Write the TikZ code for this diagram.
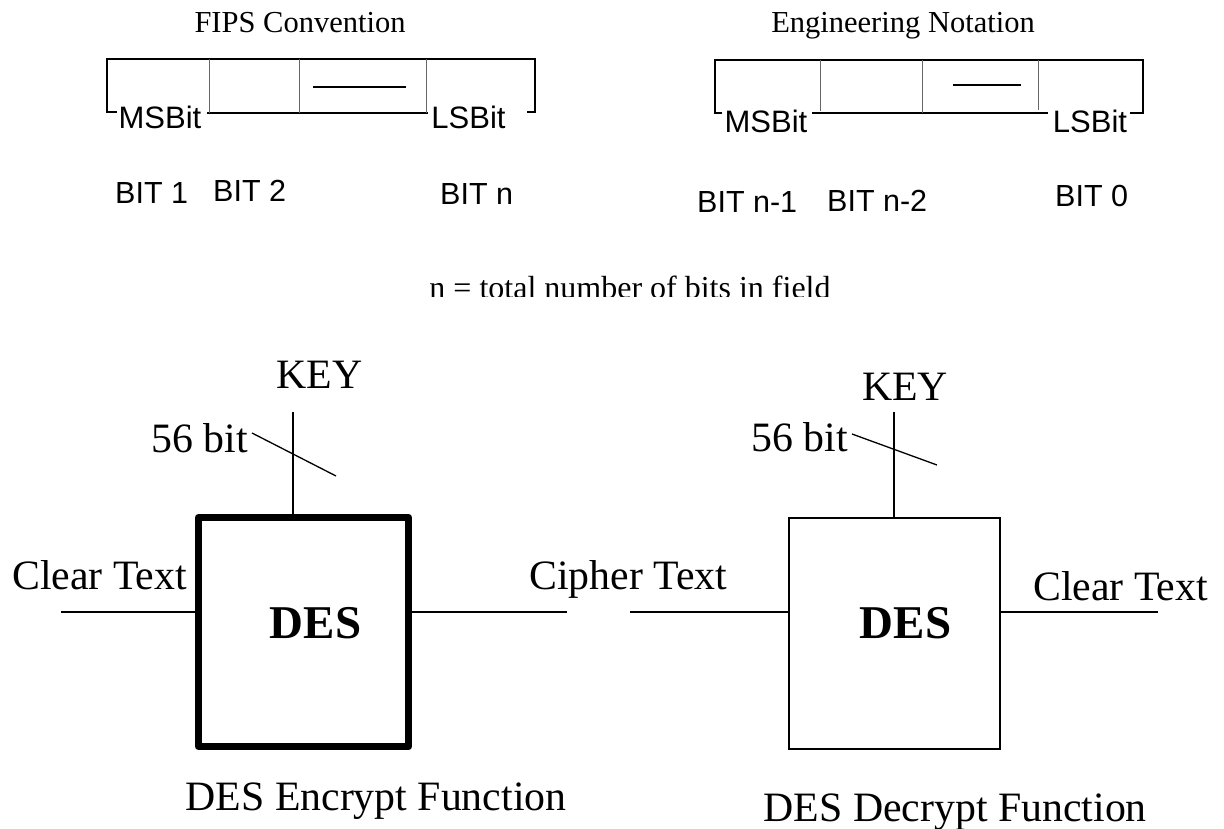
\documentclass[tikz,border=0pt]{standalone}
\usepackage{fontspec}
\setmainfont{Liberation Serif}
\newfontfamily\arialf{Liberation Sans}
\begin{document}
\begin{tikzpicture}[x=1pt,y=-1pt,
  lbl/.style={inner sep=0pt, font=\fontsize{41.8}{41.8}\selectfont},
  title/.style={inner sep=0pt, font=\fontsize{30.5}{30.5}\selectfont},
  bitlbl/.style={inner sep=0pt, anchor=base west, font=\arialf\fontsize{30.5}{30.5}\selectfont},
  bitname/.style={inner sep=0pt, anchor=base, font=\arialf\fontsize{31}{31}\selectfont},
  desbold/.style={inner sep=0pt, anchor=base, font=\bfseries\fontsize{47}{47}\selectfont},
  bracket/.style={line width=2pt},
  cell/.style={line width=1pt, draw=black!60},
  wire/.style={line width=1.3pt},
  encbox/.style={draw, line width=7pt, line join=round, inner sep=0pt},
  decbox/.style={draw, line width=2pt, inner sep=0pt}]
\useasboundingbox (0,0) rectangle (1224,829);

% ---------- top: FIPS convention ----------
\node[title, anchor=base] (fips) at (300,33) {FIPS Convention};
\node[bitname] (fmsb) at (160,129) {MSBit};
\node[bitname] (flsb) at (468.5,129) {LSBit};
\draw[bracket] (117,112) -- (107,112) -- (107,59) -- (535,59) -- (535,112) -- (527,112);
\draw[bracket] (207,113) -- (428,113);
\draw[cell] (209,59) -- (209,113);
\draw[cell] (299,59) -- (299,113);
\draw[cell] (426,59) -- (426,113);
\draw[wire] (313,87) -- (406,87);
\node[bitlbl] (b1) at (115,204) {BIT 1};
\node[bitlbl] (b2) at (213,202) {BIT 2};
\node[bitlbl] (bn) at (440,205) {BIT n};

% ---------- top: Engineering notation ----------
\node[title, anchor=base] (eng) at (903,33) {Engineering Notation};
\node[bitname] (emsb) at (766,133) {MSBit};
\node[bitname] (elsb) at (1090,133) {LSBit};
\draw[bracket] (722,113) -- (715,113) -- (715,60) -- (1143,60) -- (1143,113) -- (1130,113);
\draw[bracket] (812,113) -- (1048,113);
\draw[cell] (820,60) -- (820,111);
\draw[cell] (922,60) -- (922,113);
\draw[cell] (1038,60) -- (1038,110);
\draw[wire] (953,85) -- (1021,85);
\node[bitlbl] (bn1) at (697,213) {BIT n-1};
\node[bitlbl] (bn2) at (827,212) {BIT n-2};
\node[bitlbl] (b0) at (1055,207) {BIT 0};

% ---------- note ----------
\begin{scope}
\clip (0,240) rectangle (1224,296.5);
\node[inner sep=0pt, anchor=base, font=\fontsize{32}{32}\selectfont] (note) at (630,298.5) {n = total number of bits in field};
\end{scope}

% ---------- DES encrypt ----------
\node[encbox, minimum width=210pt, minimum height=229pt] (enc) at (303.5,632) {};
\node[desbold] (encdes) at (315.5,638) {DES};
\node[lbl, anchor=base] (enckey) at (319.5,388) {KEY};
\coordinate (ek) at (293,412);
\draw[wire] (ek) -- (ek |- enc.north);
\coordinate (es1) at (252,433);
\coordinate (es2) at (336,476);
\draw[wire] (es1) -- (es2);
\node[lbl, anchor=base east] (enc56) at (248,452) {56 bit};
\node[lbl, anchor=base west] (encin) at (12,589) {Clear Text};
\coordinate (ei) at (61,612);
\draw[wire] (ei) -- (ei -| enc.west);
\coordinate (eo) at (567,612);
\draw[wire] (eo -| enc.east) -- (eo);
\node[lbl, anchor=base west] (encout) at (529,589) {Cipher Text};
\node[lbl, anchor=base] (encname) at (376,810) {DES Encrypt Function};

% ---------- DES decrypt ----------
\node[decbox, minimum width=211pt, minimum height=231pt] (dec) at (894.5,633.5) {};
\node[desbold] (decdes) at (905.5,638) {DES};
\node[lbl, anchor=base] (deckey) at (905,400) {KEY};
\coordinate (dk) at (894,412);
\draw[wire] (dk) -- (dk |- dec.north);
\coordinate (ds1) at (852,434);
\coordinate (ds2) at (937,465);
\draw[wire] (ds1) -- (ds2);
\node[lbl, anchor=base east] (dec56) at (848,451) {56 bit};
\coordinate (di) at (630,612);
\draw[wire] (di) -- (di -| dec.west);
\coordinate (do) at (1158,612);
\draw[wire] (do -| dec.east) -- (do);
\node[lbl, anchor=base west] (decout) at (1033,600) {Clear Text};
\node[lbl, anchor=base east] (decname) at (1147,821) {DES Decrypt Function};
\end{tikzpicture}
\end{document}
